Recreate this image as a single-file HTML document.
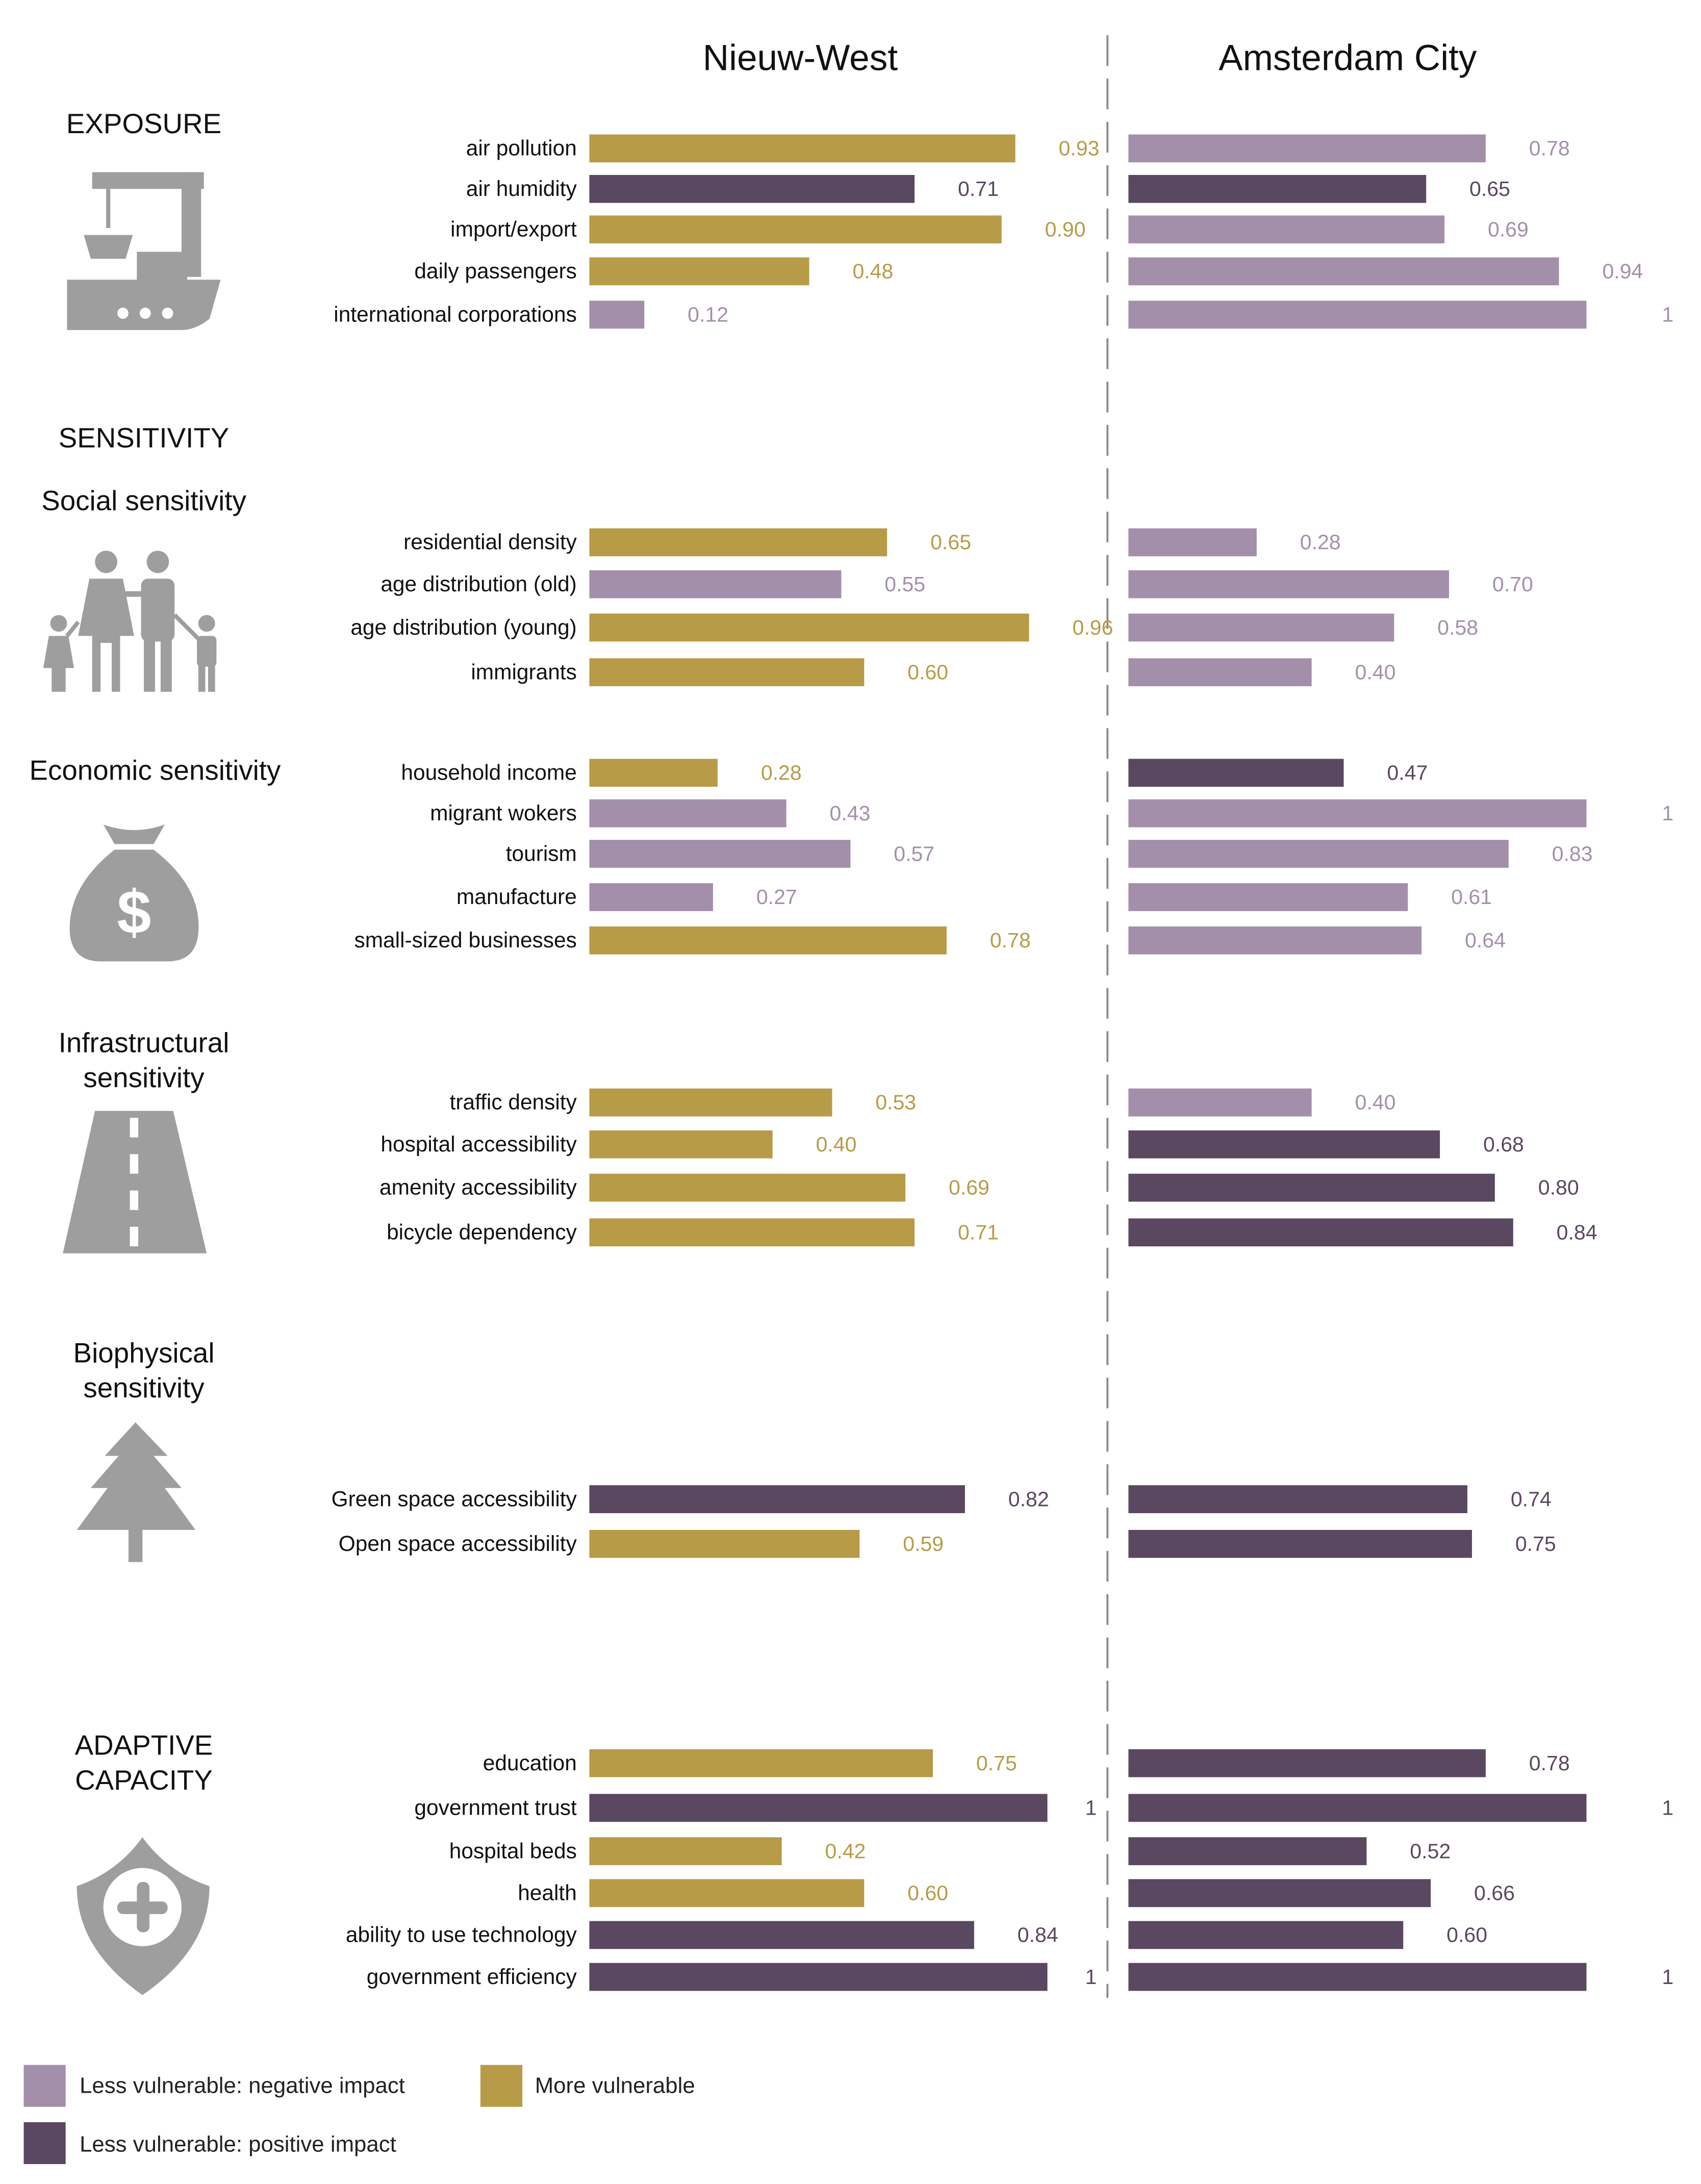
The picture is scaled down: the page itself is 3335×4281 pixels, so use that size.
<!DOCTYPE html>
<html><head><meta charset="utf-8"><style>
html,body{margin:0;padding:0;background:#fff}
svg{display:block}
text{font-family:"Liberation Sans",sans-serif}
</style></head><body>
<svg id="chart" width="3335" height="4281" viewBox="0 0 1218 1563" xmlns="http://www.w3.org/2000/svg">
<text x="573" y="50" font-size="26" text-anchor="middle" fill="#111">Nieuw-West</text>
<text x="965" y="50" font-size="26" text-anchor="middle" fill="#111">Amsterdam City</text>
<line x1="793" y1="25" x2="793" y2="1430" stroke="#8a8a8a" stroke-width="1.4" stroke-dasharray="22,9"/>
<g fill="#111" font-size="20" text-anchor="middle">
<text x="103" y="95">EXPOSURE</text>
<text x="103" y="320">SENSITIVITY</text>
<text x="103" y="365">Social sensitivity</text>
<text x="111" y="558">Economic sensitivity</text>
<text x="103" y="753">Infrastructural</text>
<text x="103" y="778">sensitivity</text>
<text x="103" y="975">Biophysical</text>
<text x="103" y="1000">sensitivity</text>
<text x="103" y="1256">ADAPTIVE</text>
<text x="103" y="1281">CAPACITY</text>
</g>
<g fill="#9e9e9e">
<g>
<rect x="66" y="123" width="80" height="12"/><rect x="130" y="123" width="14" height="75"/><rect x="76" y="135" width="3" height="28"/>
<polygon points="60,168 95,168 90,185 65,185"/><rect x="98" y="180" width="36" height="22"/>
<path d="M48 200 H158 L150 228 Q140 236 130 236 H48 Z"/>
<circle cx="88" cy="224" r="4" fill="#fff"/><circle cx="104" cy="224" r="4" fill="#fff"/><circle cx="120" cy="224" r="4" fill="#fff"/>
</g>
<g>
<circle cx="76" cy="402" r="8"/><path d="M64 414 H88 L96 455 H86 V495 H80 V460 H72 V495 H66 V455 H56 Z"/>
<circle cx="113" cy="402" r="8"/><rect x="101" y="414" width="24" height="45" rx="5"/><rect x="103" y="455" width="8" height="40"/><rect x="115" y="455" width="8" height="40"/>
<circle cx="42" cy="446" r="6"/><path d="M35 455 H49 L53 478 H47 V495 H37 V478 H31 Z"/>
<circle cx="148" cy="446" r="6"/><rect x="141" y="455" width="14" height="22" rx="3"/><rect x="142" y="475" width="5" height="20"/><rect x="149" y="475" width="5" height="20"/>
<line x1="88" y1="425" x2="101" y2="425" stroke="#9e9e9e" stroke-width="4"/><line x1="56" y1="445" x2="48" y2="455" stroke="#9e9e9e" stroke-width="3"/><line x1="125" y1="440" x2="142" y2="457" stroke="#9e9e9e" stroke-width="3"/>
</g>
<g>
<path d="M74 590 Q96 598 118 590 L110 604 H82 Z"/>
<path d="M82 608 H110 Q145 635 142 668 Q140 688 120 688 H72 Q52 688 50 668 Q48 635 82 608 Z"/>
<text x="96" y="668" font-size="44" font-weight="bold" fill="#fff" text-anchor="middle">$</text>
</g>
<g>
<polygon points="68,795 124,795 148,897 45,897"/>
<rect x="93" y="800" width="6" height="14" fill="#fff"/><rect x="93" y="826" width="6" height="14" fill="#fff"/><rect x="93" y="852" width="6" height="14" fill="#fff"/><rect x="93" y="878" width="6" height="14" fill="#fff"/>
</g>
<g>
<polygon points="97,1018 120,1042 110,1042 130,1065 118,1065 140,1095 55,1095 77,1065 65,1065 85,1042 75,1042"/>
<rect x="92" y="1094" width="10" height="24"/>
</g>
<g>
<path d="M102 1315 Q120 1340 150 1350 Q150 1395 102 1428 Q55 1395 55 1350 Q84 1340 102 1315 Z"/>
<circle cx="102" cy="1365" r="28" fill="#fff"/>
<rect x="98" y="1347" width="9" height="36" rx="4"/><rect x="84" y="1361" width="36" height="9" rx="4"/>
</g>
</g>
<g font-size="16" fill="#222">
<rect x="17" y="1478" width="30" height="30" fill="#a48fab"/>
<text x="57" y="1498">Less vulnerable: negative impact</text>
<rect x="344" y="1478" width="30" height="30" fill="#b89b47"/>
<text x="383" y="1498">More vulnerable</text>
<rect x="17" y="1519" width="30" height="30" fill="#5a4760"/>
<text x="57" y="1540">Less vulnerable: positive impact</text>
</g>
<g id="bars"></g>
</svg>
<script>
const categories = ["air pollution","air humidity","import/export","daily passengers","international corporations",
"residential density","age distribution (old)","age distribution (young)","immigrants",
"household income","migrant wokers","tourism","manufacture","small-sized businesses",
"traffic density","hospital accessibility","amenity accessibility","bicycle dependency",
"Green space accessibility","Open space accessibility",
"education","government trust","hospital beds","health","ability to use technology","government efficiency"];
const rowY = [106,135,164,194,225, 388,418,449,481, 553,582,611,642,673, 789,819,850,882, 1073,1105, 1262,1294,1325,1355,1385,1415];
const nieuwWestValues = [0.93,0.71,0.90,0.48,0.12, 0.65,0.55,0.96,0.60, 0.28,0.43,0.57,0.27,0.78, 0.53,0.40,0.69,0.71, 0.82,0.59, 0.75,1,0.42,0.60,0.84,1];
const nieuwWestTypes = ["g","p","g","g","n", "g","n","g","g", "g","n","n","n","g", "g","g","g","g", "p","g", "g","p","g","g","p","p"];
const amsterdamValues = [0.78,0.65,0.69,0.94,1, 0.28,0.70,0.58,0.40, 0.47,1,0.83,0.61,0.64, 0.40,0.68,0.80,0.84, 0.74,0.75, 0.78,1,0.52,0.66,0.60,1];
const amsterdamTypes = ["n","p","n","n","n", "n","n","n","n", "p","n","n","n","n", "n","p","p","p", "p","p", "p","p","p","p","p","p"];
const labelsNieuwWest = ["0.93","0.71","0.90","0.48","0.12","0.65","0.55","0.96","0.60","0.28","0.43","0.57","0.27","0.78","0.53","0.40","0.69","0.71","0.82","0.59","0.75","1","0.42","0.60","0.84","1"];
const labelsAmsterdam = ["0.78","0.65","0.69","0.94","1","0.28","0.70","0.58","0.40","0.47","1","0.83","0.61","0.64","0.40","0.68","0.80","0.84","0.74","0.75","0.78","1","0.52","0.66","0.60","1"];

const colors = {g:"#b89b47", n:"#a48fab", p:"#5a4760"};
const NS = "http://www.w3.org/2000/svg";
const g = document.getElementById("bars");
const xLeft = v => 422 + v*328;
const xRight = v => 808 + v*328;
function mk(tag, attrs){const e=document.createElementNS(NS,tag);for(const k in attrs)e.setAttribute(k,attrs[k]);g.appendChild(e);return e;}
categories.forEach((c,i)=>{
  const y = rowY[i];
  const t = mk("text",{x:413,y:y+5,"font-size":15.5,"text-anchor":"end",fill:"#111"});
  t.textContent = c;
  
  
  const v1 = nieuwWestValues[i];
  const b1 = mk("rect",{x:422,y:y-10,width:xLeft(v1)-422,height:20,fill:colors[nieuwWestTypes[i]]});
  
  
  const l1 = mk("text",{x:xLeft(v1)+(v1>=1?27:31),y:y+5,"font-size":15,fill:colors[nieuwWestTypes[i]]});
  l1.textContent = labelsNieuwWest[i];
  
  
  const v2 = amsterdamValues[i];
  const b2 = mk("rect",{x:808,y:y-10,width:xRight(v2)-808,height:20,fill:colors[amsterdamTypes[i]]});
  
  
  const l2 = mk("text",{x:xRight(v2)+(v2>=1?54:31),y:y+5,"font-size":15,fill:colors[amsterdamTypes[i]]});
  l2.textContent = labelsAmsterdam[i];
  
  
});
</script>
</body></html>
